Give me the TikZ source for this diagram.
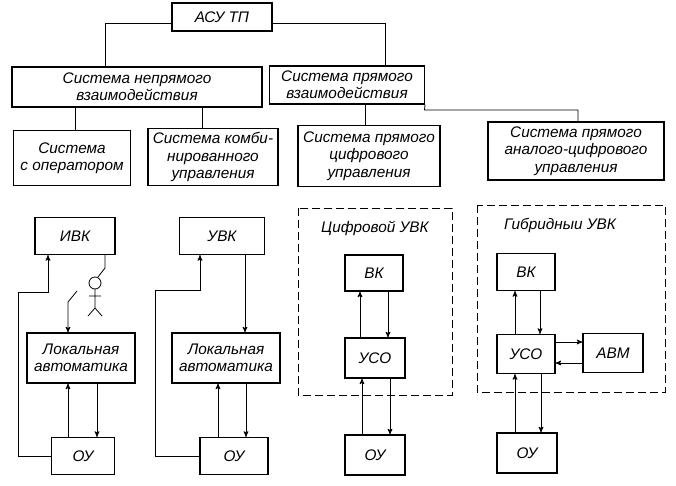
\documentclass[tikz,border=0pt]{standalone}
\usepackage{fontspec}
\setmainfont{Liberation Sans}
\usetikzlibrary{arrows}

\begin{document}
\begin{tikzpicture}[
    x = 0.75pt,
    y = -0.75pt,
    semithick,
    >=stealth',
    box/.style 2 args = {
      draw,
      thick,
      align = center,
      inner sep = 1pt,
      font = \itshape\fontsize{11.5}{13}\selectfont,
      minimum width = #1*0.75pt,
      minimum height = #2*0.75pt
    },
    link/.style = {semithick},
    frame/.style = {dashed, dash pattern = on 6pt off 3pt}
  ]
  \useasboundingbox (0,0) rectangle (676,486);

  % upper tree
  \node[box={100}{28}] (asu) at (222,17) {АСУ ТП};
  \node[box={250}{40}] (indir) at (137,87) {Система непрямого\\взаимодействия};
  \node[box={155}{38}] (dir) at (347,85) {Система прямого\\взаимодействия};
  \node[box={117}{55}] (oper) at (72,158) {Система\\с оператором};
  \node[box={130}{57}] (comb) at (213,157) {Система комби-\\нированного\\управления};
  \node[box={142}{61}] (digit) at (369,156) {Система прямого\\цифрового\\управления};
  \node[box={176}{58}] (hybr) at (576,151) {Система прямого\\аналого-цифрового\\управления};

  \draw[link] (asu.west |- 0,23) -| (indir.north -| 105,0);
  \draw[link] (asu.east |- 0,23) -| (dir.north -| 385,0);
  \draw[link] (75,0 |- indir.south) -- (75,0 |- oper.north);
  \draw[link] (202,0 |- indir.south) -- (202,0 |- comb.north);
  \draw[link] (365,0 |- dir.south) -- (365,0 |- digit.north);
  \draw[link] (dir.south east) -- (424.5,110) -| (578,0 |- hybr.north);

  % column 1: operator
  \node[box={80}{37}] (ivk) at (75,236) {ИВК};
  \node[box={108}{50}] (loc1) at (81,358) {Локальная\\автоматика};
  \node[box={63}{37}] (ou1) at (83,456) {ОУ};
  \draw[link, ->] (ou1.west) -- (18,456) -- (18,292) -- (48,292) -- (48,0 |- ivk.south);
  \draw[link, ->] (68,0 |- ou1.north) -- (68,0 |- loc1.south);
  \draw[link, ->] (97,0 |- loc1.south) -- (97,0 |- ou1.north);
  \draw[link, ->] (77,291) -- (68,302) -- (68,0 |- loc1.north);
  \draw[link] (105,0 |- ivk.south) -- (105,268) -- (98,277);
  \draw (95,283) circle (6);
  \draw (95,289) -- (95,308) (89,296) -- (101,296)
    (95,308) -- (88,316) (95,308) -- (102,316);

  % column 2: combined
  \node[box={85}{37}] (uvk) at (222,236) {УВК};
  \node[box={108}{50}] (loc2) at (226,358) {Локальная\\автоматика};
  \node[box={68}{37}] (ou2) at (234,456) {ОУ};
  \draw[link, ->] (ou2.west) -- (155,456) -- (155,290) -- (200,290) -- (200,0 |- uvk.south);
  \draw[link, ->] (245,0 |- uvk.south) -- (245,0 |- loc2.north);
  \draw[link, ->] (218,0 |- ou2.north) -- (218,0 |- loc2.south);
  \draw[link, ->] (246,0 |- loc2.south) -- (246,0 |- ou2.north);

  % column 3: digital
  \draw[frame] (298,208) rectangle (452,395);
  \node[font=\itshape\fontsize{11.5}{13}\selectfont] (dlabel) at (375,228) {Цифровой УВК};
  \node[box={58}{36}] (vk3) at (374,273) {ВК};
  \node[box={60}{40}] (uso3) at (375,358) {УСО};
  \node[box={60}{40}] (ou3) at (375,455) {ОУ};
  \draw[link, ->] (360,0 |- uso3.north) -- (360,0 |- vk3.south);
  \draw[link, ->] (388,0 |- vk3.south) -- (388,0 |- uso3.north);
  \draw[link, ->] (362,0 |- ou3.north) -- (362,0 |- uso3.south);
  \draw[link, ->] (390,0 |- uso3.south) -- (390,0 |- ou3.north);

  % column 4: hybrid
  \draw[frame] (477,205) rectangle (665,392);
  \node[font=\itshape\fontsize{11.5}{13}\selectfont] (hlabel) at (560,225) {Гибридныи УВК};
  \node[box={58}{37}] (vk4) at (526,272) {ВК};
  \node[box={58}{39}] (uso4) at (526,354) {УСО};
  \node[box={60}{39}] (avm) at (613,353) {АВМ};
  \node[box={60}{40}] (ou4) at (527,453) {ОУ};
  \draw[link, ->] (515,0 |- uso4.north) -- (515,0 |- vk4.south);
  \draw[link, ->] (540,0 |- vk4.south) -- (540,0 |- uso4.north);
  \draw[link, ->] (515,0 |- ou4.north) -- (515,0 |- uso4.south);
  \draw[link, ->] (541,0 |- uso4.south) -- (541,0 |- ou4.north);
  \draw[link, ->] (uso4.east |- 0,342) -- (avm.west |- 0,342);
  \draw[link, ->] (avm.west |- 0,363) -- (uso4.east |- 0,363);
\end{tikzpicture}
\end{document}
